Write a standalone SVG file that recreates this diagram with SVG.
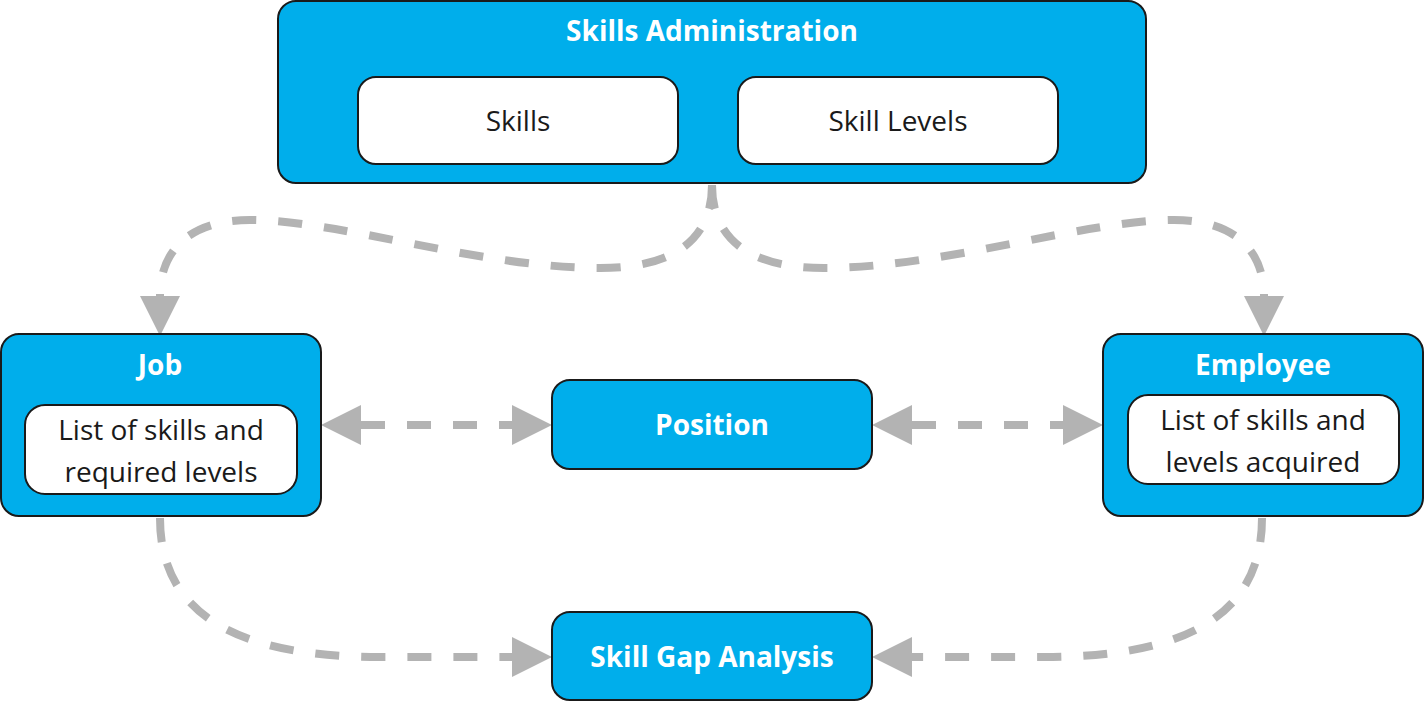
<svg xmlns="http://www.w3.org/2000/svg" width="1424" height="701" viewBox="0 0 1424 701">
<style>
.box{fill:#00aeeb;stroke:#1a1a1a;stroke-width:2}
.inner{fill:#fff;stroke:#1a1a1a;stroke-width:2}
.t{font-family:"Open Sans","Noto Sans",sans-serif;font-weight:bold;font-size:28px;fill:#fff;text-anchor:middle}
.n{font-family:"Open Sans","Noto Sans",sans-serif;font-size:28px;fill:#1a1a1a;text-anchor:middle}
.c{fill:none;stroke:#b3b3b3;stroke-width:8;stroke-dasharray:24,22}
</style>
<defs>
<marker id="ah" markerUnits="userSpaceOnUse" markerWidth="40" markerHeight="40" viewBox="0 0 38 38" refX="0" refY="19" orient="auto-start-reverse"><path d="M0,0 L38,19 L0,38 z" fill="#b3b3b3"/></marker>
</defs>
<g id="connectors">
<path class="c" d="M712,185 C712,235 680,268 600,268 C480,268 340,220 250,220 C190,220 160,250 160,296" marker-end="url(#ah)"/>
<path class="c" d="M712,185 C712,235 744,268 824,268 C944,268 1084,220 1174,220 C1234,220 1264,250 1264,296" marker-end="url(#ah)"/>
<path class="c" d="M361,425 L512,425" marker-start="url(#ah)" marker-end="url(#ah)" stroke-dasharray="26,30"/>
<path class="c" d="M912,425 L1063,425" marker-start="url(#ah)" marker-end="url(#ah)" stroke-dasharray="26,30"/>
<path class="c" d="M160,518 C160,610 230,657 380,657 L512,657" marker-end="url(#ah)"/>
<path class="c" d="M1262,518 C1262,610 1194,657 1044,657 L912,657" marker-end="url(#ah)"/>
</g>
<g id="admin">
<rect class="box" x="278" y="1" width="868" height="182" rx="18"/>
<text class="t" x="712" y="41">Skills Administration</text>
<rect class="inner" x="358" y="77" width="320" height="87" rx="18"/>
<text class="n" x="518" y="131">Skills</text>
<rect class="inner" x="738" y="77" width="320" height="87" rx="18"/>
<text class="n" x="898" y="131">Skill Levels</text>
</g>
<g id="job">
<rect class="box" x="1" y="334" width="320" height="182" rx="18"/>
<text class="t" x="160" y="375">Job</text>
<rect class="inner" x="25" y="405" width="272" height="89" rx="20"/>
<text class="n" x="161" y="440">List of skills and</text>
<text class="n" x="161" y="482">required levels</text>
</g>
<g id="position">
<rect class="box" x="552" y="380" width="320" height="89" rx="18"/>
<text class="t" x="712" y="435">Position</text>
</g>
<g id="employee">
<rect class="box" x="1103" y="334" width="320" height="182" rx="18"/>
<text class="t" x="1263" y="375">Employee</text>
<rect class="inner" x="1128" y="395" width="271" height="89" rx="20"/>
<text class="n" x="1263" y="430">List of skills and</text>
<text class="n" x="1263" y="472">levels acquired</text>
</g>
<g id="gap">
<rect class="box" x="552" y="612" width="320" height="88" rx="18"/>
<text class="t" x="712" y="667">Skill Gap Analysis</text>
</g>
</svg>
